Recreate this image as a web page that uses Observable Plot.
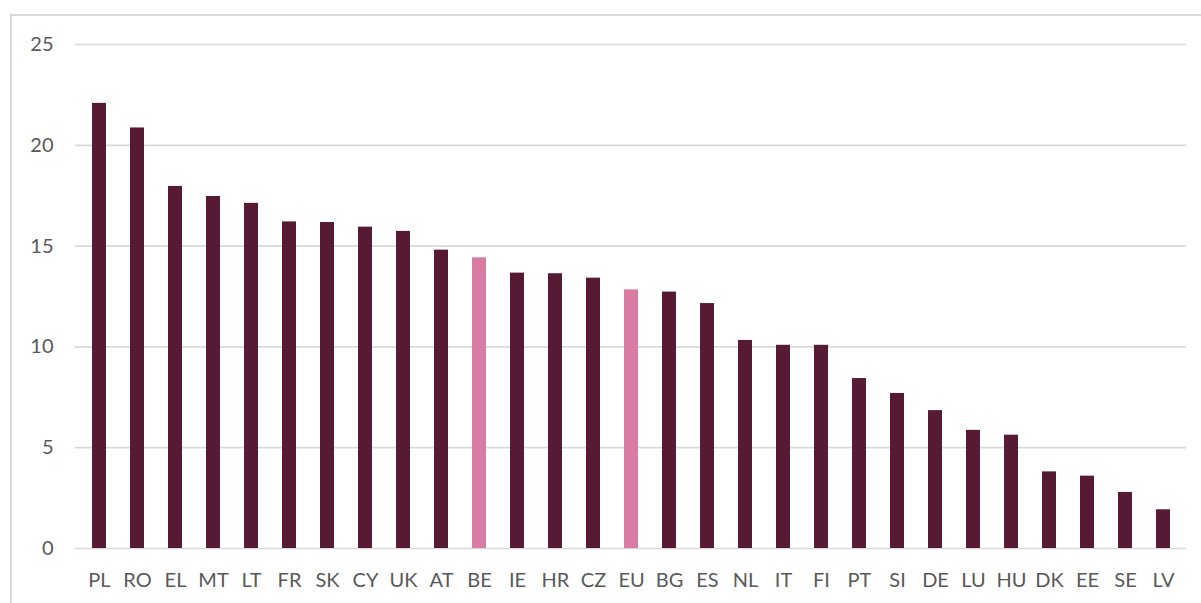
<!DOCTYPE html>
<html><head><meta charset="utf-8">
<script src="https://cdn.jsdelivr.net/npm/d3@7"></script>
<script src="https://cdn.jsdelivr.net/npm/@observablehq/plot@0.6"></script>
<style>
html,body{margin:0;padding:0;background:#fff;overflow:hidden;}
#wrap{position:relative;width:1201px;height:603px;}
#frame{position:absolute;left:10px;top:14px;width:1300px;height:700px;border-left:2px solid #d9d9d9;border-top:2px solid #d9d9d9;box-sizing:border-box;}
#chart{position:absolute;left:0;top:0;}
</style></head>
<body><div id="wrap"><div id="frame"></div><div id="chart"></div></div>
<script>
const countries = ["PL","RO","EL","MT","LT","FR","SK","CY","UK","AT","BE","IE","HR","CZ","EU","BG","ES","NL","IT","FI","PT","SI","DE","LU","HU","DK","EE","SE","LV"];
const values = [22.08,20.86,17.96,17.46,17.12,16.2,16.17,15.94,15.73,14.8,14.42,13.66,13.63,13.41,12.83,12.72,12.15,10.32,10.08,10.08,8.43,7.69,6.84,5.86,5.62,3.8,3.59,2.78,1.92];
const highlighted = ["BE","EU"];
const yTicks = [0,5,10,15,20,25];
const data = countries.map((c,i)=>({country:c,value:values[i],hl:highlighted.includes(c)}));
const chart = Plot.plot({
  width:1201, height:603,
  marginLeft:75, marginRight:15, marginTop:44, marginBottom:55,
  style:{fontFamily:"Lato, 'Open Sans', sans-serif", fontSize:"20px", color:"#595959", background:"transparent"},
  x:{domain:countries, paddingInner:0.635, paddingOuter:0.3175, label:null, tickSize:0},
  y:{domain:[0,25], ticks:yTicks, label:null, tickSize:0, grid:false},
  marks:[
    Plot.ruleY(yTicks,{stroke:"#d9d9d9", strokeWidth:1.7}),
    Plot.barY(data,{x:"country", y:"value", fill:d=>d.hl?"#d97ba3":"#561a35"}),
    Plot.axisX({tickSize:0, tickPadding:24, fill:"#595959"}),
    Plot.axisY({ticks:yTicks, tickSize:0, tickPadding:22, fill:"#595959"})
  ]
});
document.getElementById("chart").appendChild(chart);
</script></body></html>
